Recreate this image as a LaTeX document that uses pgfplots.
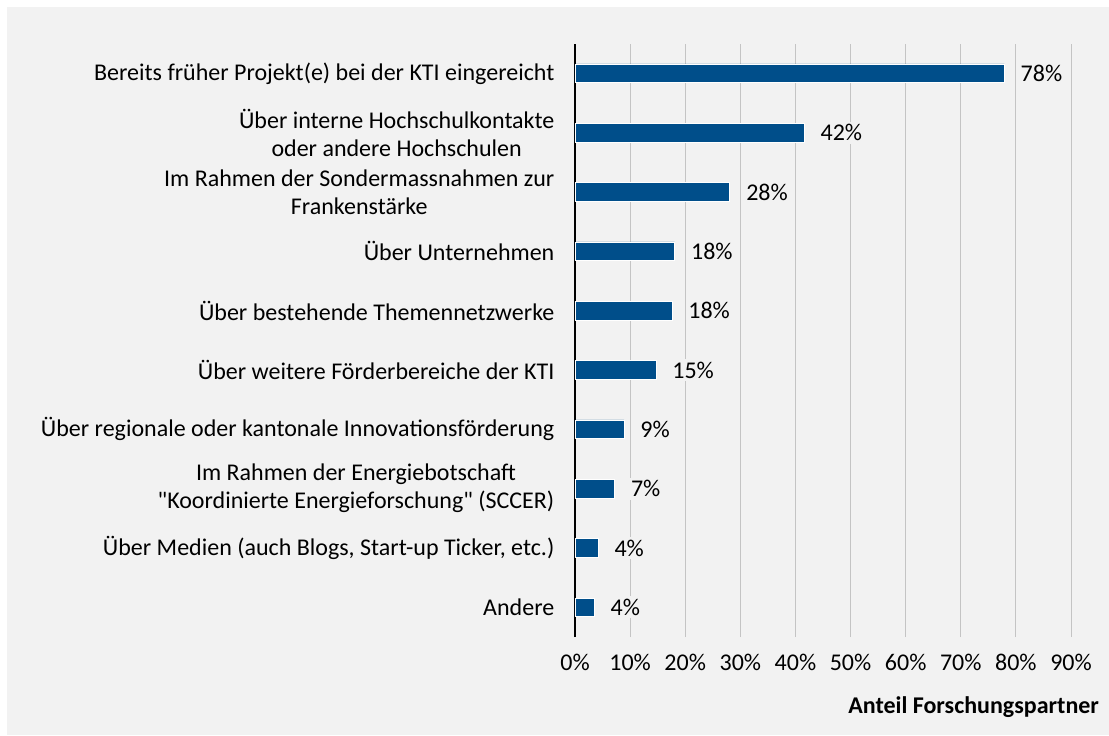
\documentclass[border=0pt]{standalone}
\usepackage{pgfplots}
\pgfplotsset{compat=1.18}
\usepackage{fontspec}
\setmainfont{Carlito}
\definecolor{panel}{HTML}{F2F2F2}
\definecolor{barblue}{HTML}{004E8A}
\definecolor{gridgray}{HTML}{C4C4C4}

\begin{document}
\begin{tikzpicture}[font=\fontsize{18pt}{21pt}\selectfont]
  % page and grey panel (1px = 0.75pt)
  \path[use as bounding box, fill=white] (-431.25pt,-73.5pt) rectangle (400.5pt,477.75pt);
  \fill[panel] (-426pt,-73.5pt) rectangle (400.5pt,472.5pt);
  \begin{axis}[
    at={(0,0)}, anchor=south west,
    scale only axis,
    width=372pt, height=445pt,
    xbar, bar width=14pt,
    xmin=0, xmax=90,
    ymin=-0.5, ymax=9.5,
    axis lines*=left,
    x axis line style={draw=none},
    y axis line style={black, line width=1.5pt, -},
    major tick length=0pt,
    xtick={0,10,...,90},
    xticklabels={0\%,10\%,20\%,30\%,40\%,50\%,60\%,70\%,80\%,90\%},
    xticklabel style={yshift=-9pt, font=\fontsize{18pt}{21pt}\selectfont},
    xmajorgrids, major grid style={gridgray, line width=0.6pt},
    ytick={0,...,9},
    yticklabels={
      Andere,
      {Über Medien (auch Blogs, Start-up Ticker, etc.)},
      {Im Rahmen der Energiebotschaft\\\textquotedbl Koordinierte Energieforschung\textquotedbl{} (SCCER)},
      {Über regionale oder kantonale Innovationsförderung},
      {Über weitere Förderbereiche der KTI},
      {Über bestehende Themennetzwerke},
      {Über Unternehmen},
      {Im Rahmen der Sondermassnahmen zur\\Frankenstärke},
      {Über interne Hochschulkontakte\\oder andere Hochschulen},
      {Bereits früher Projekt(e) bei der KTI eingereicht}},
    yticklabel style={align=center, xshift=-12pt, font=\fontsize{18pt}{21pt}\selectfont},
    point meta=explicit symbolic,
    nodes near coords={\pgfplotspointmeta\%},
    every node near coord/.append style={anchor=west, fill=panel, inner sep=2pt,
      xshift=10pt, font=\fontsize{18pt}{21pt}\selectfont},
    clip=false,
  ]
    \addplot[fill=barblue, draw=white, line width=0.6pt] coordinates {
      (3.5,0) [4]
      (4.2,1) [4]
      (7.2,2) [7]
      (8.9,3) [9]
      (14.7,4) [15]
      (17.6,5) [18]
      (18.1,6) [18]
      (28.1,7) [28]
      (41.6,8) [42]
      (77.9,9) [78]
    };
    \node[anchor=north east, font=\fontsize{18pt}{21pt}\selectfont\bfseries]
      at ([xshift=24.5pt, yshift=-41pt]rel axis cs:1,0) {Anteil Forschungspartner};
  \end{axis}
\end{tikzpicture}
\end{document}
